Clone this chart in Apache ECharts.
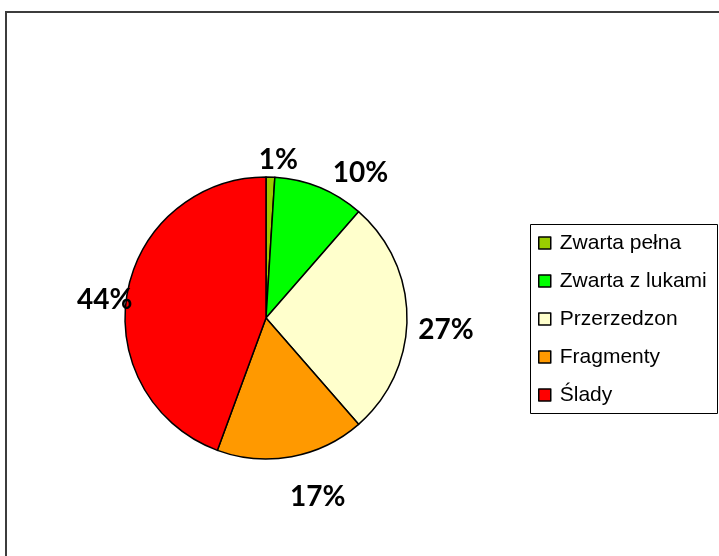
<!DOCTYPE html>
<html>
<head>
<meta charset="utf-8">
<script src="https://cdn.jsdelivr.net/npm/echarts@6/dist/echarts.min.js"></script>
<style>
  html, body { margin: 0; padding: 0; background: #fff; }
  #chart { width: 719px; height: 556px; }
</style>
</head>
<body>
<div id="chart"></div>
<script>
// kategorie i udzialy (%)
var categories = ['Zwarta pełna', 'Zwarta z lukami', 'Przerzedzon', 'Fragmenty', 'Ślady'];
var shares = [1.0, 10.4, 27.2, 17.0, 44.4];
var colors = ['#99cc00', '#00ff00', '#ffffcc', '#ff9900', '#ff0000'];

var total = shares.reduce(function (a, b) { return a + b; }, 0);

var pieData = [];
for (var i = 0; i < categories.length; i++) {
  pieData.push({ name: categories[i], value: shares[i], itemStyle: { color: colors[i] } });
}

// przesuniecie etykiet w poziomie (jak w Excelu)
var labelShiftX = [7, 30, 10, 21, 6];

var chart = echarts.init(document.getElementById('chart'));
var option = {
  animation: false,
  backgroundColor: '#fff',
  graphic: [
    {
      type: 'rect', z: 0, silent: true,
      shape: { x: 6, y: 12, width: 800, height: 600 },
      style: { fill: '#fff', stroke: '#3c3c3c', lineWidth: 2 }
    },
    {
      type: 'rect', z: 1, silent: true,
      shape: { x: 530.5, y: 224.5, width: 187, height: 189 },
      style: { fill: '#fff', stroke: '#000', lineWidth: 1 }
    }
  ],
  legend: {
    orient: 'vertical',
    left: 538,
    top: 231,
    padding: 0,
    z: 5,
    selectedMode: false,
    icon: 'rect',
    itemWidth: 12,
    itemHeight: 12,
    itemGap: 14,
    itemStyle: { borderColor: '#000', borderWidth: 1.5 },
    textStyle: {
      fontFamily: 'Liberation Sans',
      fontSize: 21,
      lineHeight: 24,
      color: '#000',
      padding: [0, 0, 0, 4]
    },
    data: categories
  },
  series: [
    {
      type: 'pie',
      center: [266, 318],
      radius: 141,
      startAngle: 90,
      clockwise: true,
      avoidLabelOverlap: false,
      silent: true,
      itemStyle: { borderColor: '#000', borderWidth: 1.5 },
      label: {
        show: true,
        position: 'outside',
        distanceToLabelLine: 0,
        fontFamily: 'Lato',
        fontWeight: 'bold',
        fontSize: 28,
        color: '#000',
        formatter: function (p) {
          return Math.round(p.value / total * 100) + '%';
        }
      },
      labelLine: { show: false, length: 29, length2: 0 },
      labelLayout: function (params) {
        return { align: 'center', verticalAlign: 'middle', dx: labelShiftX[params.dataIndex], dy: 12 };
      },
      emphasis: { disabled: true },
      data: pieData
    }
  ]
};
chart.setOption(option);
</script>
</body>
</html>
